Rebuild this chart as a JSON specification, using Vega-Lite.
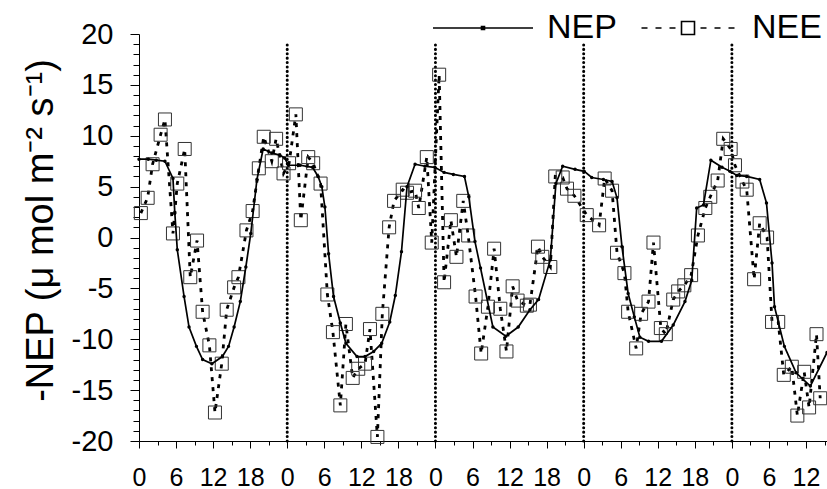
{
  "$schema": "https://vega.github.io/schema/vega-lite/v6.json",
  "width": 688,
  "height": 407,
  "autosize": {"type": "none"},
  "padding": {"left": 139, "top": 34, "right": 0, "bottom": 48},
  "background": "white",
  "config": {
    "view": {"stroke": null},
    "font": "Liberation Sans",
    "axis": {"labelOverlap": false, "labelFlush": false, "grid": false, "labelColor": "black", "tickColor": "black", "domainColor": "black", "tickWidth": 1, "domainWidth": 1, "labelFont": "Liberation Sans"},
    "axisX": {"labelFontSize": 25, "labelBaseline": "alphabetic", "labelPadding": 37},
    "axisY": {"labelFontSize": 29, "labelPadding": 17}
  },
  "datasets": {
    "days": [{"h": 24}, {"h": 48}, {"h": 72}, {"h": 96}],
    "vals": [
      {"s": "NEP", "h": 0, "v": 7.7}, {"s": "NEP", "h": 1.5, "v": 7.7}, {"s": "NEP", "h": 2.8, "v": 7.6}, {"s": "NEP", "h": 4.2, "v": 7.5},
      {"s": "NEP", "h": 5.5, "v": 5.8}, {"s": "NEP", "h": 5.8, "v": 2.4}, {"s": "NEP", "h": 6.2, "v": -1.2}, {"s": "NEP", "h": 7.3, "v": -5.8},
      {"s": "NEP", "h": 8.1, "v": -8.8}, {"s": "NEP", "h": 9.3, "v": -10.7}, {"s": "NEP", "h": 10.3, "v": -12.0}, {"s": "NEP", "h": 11.8, "v": -12.4},
      {"s": "NEP", "h": 13.5, "v": -11.7}, {"s": "NEP", "h": 14.5, "v": -10.7}, {"s": "NEP", "h": 15.4, "v": -8.8}, {"s": "NEP", "h": 16.4, "v": -6.3},
      {"s": "NEP", "h": 17.3, "v": -2.9}, {"s": "NEP", "h": 18.1, "v": 0.4}, {"s": "NEP", "h": 19.1, "v": 5.7}, {"s": "NEP", "h": 20.1, "v": 8.7},
      {"s": "NEP", "h": 21.5, "v": 8.3}, {"s": "NEP", "h": 22.8, "v": 8.1}, {"s": "NEP", "h": 23.6, "v": 7.8}, {"s": "NEP", "h": 24.2, "v": 7.1},
      {"s": "NEP", "h": 26.1, "v": 7.1}, {"s": "NEP", "h": 28.1, "v": 6.9}, {"s": "NEP", "h": 29.0, "v": 6.0}, {"s": "NEP", "h": 29.6, "v": 5.0},
      {"s": "NEP", "h": 30.1, "v": 3.0}, {"s": "NEP", "h": 30.7, "v": -1.6}, {"s": "NEP", "h": 31.5, "v": -5.8}, {"s": "NEP", "h": 32.6, "v": -8.4},
      {"s": "NEP", "h": 33.5, "v": -10.4}, {"s": "NEP", "h": 35.3, "v": -11.7}, {"s": "NEP", "h": 36.6, "v": -11.7}, {"s": "NEP", "h": 38.0, "v": -11.2},
      {"s": "NEP", "h": 39.3, "v": -10.4}, {"s": "NEP", "h": 40.6, "v": -8.3}, {"s": "NEP", "h": 41.5, "v": -5.7}, {"s": "NEP", "h": 42.5, "v": -1.4},
      {"s": "NEP", "h": 43.4, "v": 5.0}, {"s": "NEP", "h": 44.7, "v": 7.2}, {"s": "NEP", "h": 46.3, "v": 7.0}, {"s": "NEP", "h": 47.9, "v": 6.9},
      {"s": "NEP", "h": 49.4, "v": 6.4}, {"s": "NEP", "h": 50.9, "v": 6.2}, {"s": "NEP", "h": 52.7, "v": 6.0}, {"s": "NEP", "h": 53.4, "v": 4.0},
      {"s": "NEP", "h": 54.4, "v": -0.4}, {"s": "NEP", "h": 55.3, "v": -3.0}, {"s": "NEP", "h": 57.3, "v": -8.8}, {"s": "NEP", "h": 59.4, "v": -9.7},
      {"s": "NEP", "h": 61.4, "v": -8.8}, {"s": "NEP", "h": 63.3, "v": -7.1}, {"s": "NEP", "h": 64.7, "v": -6.1}, {"s": "NEP", "h": 66.6, "v": -2.2},
      {"s": "NEP", "h": 67.5, "v": 5.3}, {"s": "NEP", "h": 68.6, "v": 7.0}, {"s": "NEP", "h": 70.6, "v": 6.7}, {"s": "NEP", "h": 72.1, "v": 6.5},
      {"s": "NEP", "h": 73.3, "v": 5.9}, {"s": "NEP", "h": 75.2, "v": 5.7}, {"s": "NEP", "h": 76.6, "v": 5.5}, {"s": "NEP", "h": 77.4, "v": 3.9},
      {"s": "NEP", "h": 78.2, "v": -0.9}, {"s": "NEP", "h": 79.2, "v": -5.5}, {"s": "NEP", "h": 80.2, "v": -7.8}, {"s": "NEP", "h": 81.1, "v": -9.8},
      {"s": "NEP", "h": 82.5, "v": -10.2}, {"s": "NEP", "h": 84.6, "v": -10.2}, {"s": "NEP", "h": 86.5, "v": -8.6}, {"s": "NEP", "h": 88.4, "v": -6.3},
      {"s": "NEP", "h": 89.5, "v": -4.2}, {"s": "NEP", "h": 90.3, "v": 2.9}, {"s": "NEP", "h": 91.4, "v": 3.2}, {"s": "NEP", "h": 92.6, "v": 7.6},
      {"s": "NEP", "h": 94.4, "v": 6.9}, {"s": "NEP", "h": 95.7, "v": 6.5}, {"s": "NEP", "h": 96.8, "v": 6.1}, {"s": "NEP", "h": 98.4, "v": 6.0},
      {"s": "NEP", "h": 100.5, "v": 5.7}, {"s": "NEP", "h": 101.6, "v": 3.4}, {"s": "NEP", "h": 102.5, "v": -2.5}, {"s": "NEP", "h": 102.9, "v": -6.8},
      {"s": "NEP", "h": 104.5, "v": -10.7}, {"s": "NEP", "h": 106.4, "v": -13.3}, {"s": "NEP", "h": 108.7, "v": -14.6}, {"s": "NEP", "h": 111.4, "v": -11.3},

      {"s": "NEE", "h": 0.3, "v": 2.4}, {"s": "NEE", "h": 1.4, "v": 3.9}, {"s": "NEE", "h": 2.2, "v": 7.2}, {"s": "NEE", "h": 3.5, "v": 10.1},
      {"s": "NEE", "h": 4.2, "v": 11.6}, {"s": "NEE", "h": 5.5, "v": 0.4}, {"s": "NEE", "h": 6.2, "v": 5.3}, {"s": "NEE", "h": 7.4, "v": 8.7},
      {"s": "NEE", "h": 8.3, "v": -3.9}, {"s": "NEE", "h": 9.4, "v": -0.3}, {"s": "NEE", "h": 10.3, "v": -7.3}, {"s": "NEE", "h": 11.4, "v": -10.6},
      {"s": "NEE", "h": 12.3, "v": -17.2}, {"s": "NEE", "h": 13.4, "v": -12.4}, {"s": "NEE", "h": 14.2, "v": -7.1}, {"s": "NEE", "h": 15.4, "v": -4.9},
      {"s": "NEE", "h": 16.1, "v": -3.9}, {"s": "NEE", "h": 17.4, "v": 0.7}, {"s": "NEE", "h": 18.4, "v": 2.6}, {"s": "NEE", "h": 19.4, "v": 6.8},
      {"s": "NEE", "h": 20.2, "v": 9.9}, {"s": "NEE", "h": 21.5, "v": 7.5}, {"s": "NEE", "h": 22.2, "v": 9.7}, {"s": "NEE", "h": 23.4, "v": 6.3},
      {"s": "NEE", "h": 24.3, "v": 7.3}, {"s": "NEE", "h": 25.4, "v": 12.1}, {"s": "NEE", "h": 26.2, "v": 1.7}, {"s": "NEE", "h": 27.4, "v": 7.9},
      {"s": "NEE", "h": 28.2, "v": 7.3}, {"s": "NEE", "h": 29.4, "v": 5.3}, {"s": "NEE", "h": 30.5, "v": -5.6}, {"s": "NEE", "h": 31.4, "v": -9.3},
      {"s": "NEE", "h": 32.6, "v": -16.5}, {"s": "NEE", "h": 33.5, "v": -8.5}, {"s": "NEE", "h": 34.6, "v": -13.8}, {"s": "NEE", "h": 35.5, "v": -12.9},
      {"s": "NEE", "h": 36.6, "v": -12.4}, {"s": "NEE", "h": 37.4, "v": -9.0}, {"s": "NEE", "h": 38.6, "v": -19.6}, {"s": "NEE", "h": 39.4, "v": -7.5},
      {"s": "NEE", "h": 40.5, "v": 1.0}, {"s": "NEE", "h": 41.3, "v": 3.6}, {"s": "NEE", "h": 42.7, "v": 4.7}, {"s": "NEE", "h": 43.4, "v": 4.4},
      {"s": "NEE", "h": 44.7, "v": 4.6}, {"s": "NEE", "h": 45.3, "v": 2.9}, {"s": "NEE", "h": 46.6, "v": 7.9}, {"s": "NEE", "h": 47.4, "v": -0.5},
      {"s": "NEE", "h": 48.6, "v": 16.0}, {"s": "NEE", "h": 49.4, "v": -4.4}, {"s": "NEE", "h": 50.5, "v": 1.7}, {"s": "NEE", "h": 51.4, "v": -1.9},
      {"s": "NEE", "h": 52.5, "v": 3.6}, {"s": "NEE", "h": 53.3, "v": 0.2}, {"s": "NEE", "h": 54.5, "v": -5.8}, {"s": "NEE", "h": 55.4, "v": -11.4},
      {"s": "NEE", "h": 56.5, "v": -6.8}, {"s": "NEE", "h": 57.5, "v": -1.1}, {"s": "NEE", "h": 58.5, "v": -7.0}, {"s": "NEE", "h": 59.5, "v": -11.2},
      {"s": "NEE", "h": 60.5, "v": -4.8}, {"s": "NEE", "h": 61.3, "v": -6.2}, {"s": "NEE", "h": 62.8, "v": -6.7}, {"s": "NEE", "h": 63.3, "v": -6.6},
      {"s": "NEE", "h": 64.6, "v": -0.9}, {"s": "NEE", "h": 65.3, "v": -1.9}, {"s": "NEE", "h": 66.6, "v": -2.9}, {"s": "NEE", "h": 67.4, "v": 6.0},
      {"s": "NEE", "h": 68.6, "v": 5.9}, {"s": "NEE", "h": 69.3, "v": 4.8}, {"s": "NEE", "h": 70.5, "v": 4.1}, {"s": "NEE", "h": 72.5, "v": 2.2},
      {"s": "NEE", "h": 74.5, "v": 1.2}, {"s": "NEE", "h": 75.4, "v": 5.8}, {"s": "NEE", "h": 76.6, "v": 4.6}, {"s": "NEE", "h": 77.4, "v": -1.5},
      {"s": "NEE", "h": 78.6, "v": -3.5}, {"s": "NEE", "h": 79.2, "v": -7.3}, {"s": "NEE", "h": 80.5, "v": -10.9}, {"s": "NEE", "h": 81.3, "v": -7.5},
      {"s": "NEE", "h": 82.5, "v": -6.3}, {"s": "NEE", "h": 83.3, "v": -0.5}, {"s": "NEE", "h": 84.5, "v": -8.9}, {"s": "NEE", "h": 85.3, "v": -9.5},
      {"s": "NEE", "h": 86.5, "v": -6.1}, {"s": "NEE", "h": 87.3, "v": -5.3}, {"s": "NEE", "h": 88.3, "v": -4.7}, {"s": "NEE", "h": 89.4, "v": -3.7},
      {"s": "NEE", "h": 90.5, "v": 0.2}, {"s": "NEE", "h": 91.7, "v": 2.9}, {"s": "NEE", "h": 92.5, "v": 4.0}, {"s": "NEE", "h": 93.7, "v": 5.6},
      {"s": "NEE", "h": 94.6, "v": 9.7}, {"s": "NEE", "h": 95.8, "v": 8.7}, {"s": "NEE", "h": 96.5, "v": 7.1}, {"s": "NEE", "h": 97.7, "v": 5.5},
      {"s": "NEE", "h": 98.4, "v": 4.7}, {"s": "NEE", "h": 99.6, "v": -4.1}, {"s": "NEE", "h": 100.5, "v": 1.4}, {"s": "NEE", "h": 101.7, "v": 0.0},
      {"s": "NEE", "h": 102.5, "v": -8.3}, {"s": "NEE", "h": 103.5, "v": -8.3}, {"s": "NEE", "h": 104.4, "v": -13.5}, {"s": "NEE", "h": 105.7, "v": -12.7},
      {"s": "NEE", "h": 106.6, "v": -17.5}, {"s": "NEE", "h": 107.7, "v": -13.2}, {"s": "NEE", "h": 108.5, "v": -16.7}, {"s": "NEE", "h": 109.7, "v": -9.5},
      {"s": "NEE", "h": 110.3, "v": -15.8}
    ]
  },
  "encoding": {
    "x": {
      "field": "h", "type": "quantitative",
      "scale": {"domain": [0, 111.4], "nice": false, "zero": false},
      "axis": {
        "values": [0,3,6,9,12,15,18,21,24,27,30,33,36,39,42,45,48,51,54,57,60,63,66,69,72,75,78,81,84,87,90,93,96,99,102,105,108,111],
        "labelExpr": "datum.value % 6 === 0 ? '' + (datum.value % 24) : ''",
        "tickSize": {"condition": {"test": "datum.value % 6 === 0", "value": 7}, "value": 4},
        "labelOverlap": false, "labelFlush": false,
        "title": null
      }
    }
  },
  "layer": [
    {
      "data": {"name": "vals"},
      "transform": [{"filter": "datum.s === 'NEE'"}],
      "mark": {"type": "line", "color": "black", "strokeWidth": 2.8, "strokeDash": [4, 6]},
      "encoding": {
        "y": {
          "field": "v", "type": "quantitative",
          "scale": {"domain": [-20, 20], "nice": false},
          "axis": {
            "values": [-20,-19,-18,-17,-16,-15,-14,-13,-12,-11,-10,-9,-8,-7,-6,-5,-4,-3,-2,-1,0,1,2,3,4,5,6,7,8,9,10,11,12,13,14,15,16,17,18,19,20],
            "labelExpr": "datum.value % 5 === 0 ? '' + datum.value : ''",
            "tickSize": {"condition": {"test": "datum.value % 5 === 0", "value": 9}, "value": 6},
            "labelOverlap": false, "labelFlush": false,
            "title": "-NEP (μ mol m⁻² s⁻¹)",
            "titleFont": "Liberation Sans", "titleFontSize": 38, "titleFontWeight": "normal", "titleColor": "black",
            "titleAngle": -90, "titleX": -87, "titleY": 196, "titleAlign": "center", "titleBaseline": "alphabetic"
          }
        }
      }
    },
    {
      "data": {"name": "days"},
      "mark": {"type": "rule", "color": "black", "strokeWidth": 3, "strokeCap": "round", "strokeDash": [0.1, 4.3]},
      "encoding": {
        "y": {
          "datum": -20, "type": "quantitative",
          "scale": {"domain": [-20, 20], "nice": false},
          "axis": {
            "values": [-20,-19,-18,-17,-16,-15,-14,-13,-12,-11,-10,-9,-8,-7,-6,-5,-4,-3,-2,-1,0,1,2,3,4,5,6,7,8,9,10,11,12,13,14,15,16,17,18,19,20],
            "labelExpr": "datum.value % 5 === 0 ? '' + datum.value : ''",
            "tickSize": {"condition": {"test": "datum.value % 5 === 0", "value": 9}, "value": 6},
            "labelOverlap": false, "labelFlush": false,
            "title": "-NEP (μ mol m⁻² s⁻¹)",
            "titleFont": "Liberation Sans", "titleFontSize": 38, "titleFontWeight": "normal", "titleColor": "black",
            "titleAngle": -90, "titleX": -87, "titleY": 196, "titleAlign": "center", "titleBaseline": "alphabetic"
          }
        },
        "y2": {"datum": 19}
      }
    },
    {
      "data": {"name": "vals"},
      "transform": [{"filter": "datum.s === 'NEE'"}],
      "mark": {"type": "point", "shape": "square", "size": 169, "filled": false, "stroke": "#333333", "strokeWidth": 1, "opacity": 1},
      "encoding": {
        "y": {"field": "v", "type": "quantitative", "scale": {"domain": [-20, 20], "nice": false}, "axis": {
            "values": [-20,-19,-18,-17,-16,-15,-14,-13,-12,-11,-10,-9,-8,-7,-6,-5,-4,-3,-2,-1,0,1,2,3,4,5,6,7,8,9,10,11,12,13,14,15,16,17,18,19,20],
            "labelExpr": "datum.value % 5 === 0 ? '' + datum.value : ''",
            "tickSize": {"condition": {"test": "datum.value % 5 === 0", "value": 9}, "value": 6},
            "labelOverlap": false, "labelFlush": false,
            "title": "-NEP (μ mol m⁻² s⁻¹)",
            "titleFont": "Liberation Sans", "titleFontSize": 38, "titleFontWeight": "normal", "titleColor": "black",
            "titleAngle": -90, "titleX": -87, "titleY": 196, "titleAlign": "center", "titleBaseline": "alphabetic"
          }}
      }
    },
    {
      "data": {"name": "vals"},
      "transform": [{"filter": "datum.s === 'NEP'"}],
      "mark": {"type": "line", "color": "black", "strokeWidth": 1.7},
      "encoding": {
        "y": {"field": "v", "type": "quantitative", "scale": {"domain": [-20, 20], "nice": false}, "axis": {
            "values": [-20,-19,-18,-17,-16,-15,-14,-13,-12,-11,-10,-9,-8,-7,-6,-5,-4,-3,-2,-1,0,1,2,3,4,5,6,7,8,9,10,11,12,13,14,15,16,17,18,19,20],
            "labelExpr": "datum.value % 5 === 0 ? '' + datum.value : ''",
            "tickSize": {"condition": {"test": "datum.value % 5 === 0", "value": 9}, "value": 6},
            "labelOverlap": false, "labelFlush": false,
            "title": "-NEP (μ mol m⁻² s⁻¹)",
            "titleFont": "Liberation Sans", "titleFontSize": 38, "titleFontWeight": "normal", "titleColor": "black",
            "titleAngle": -90, "titleX": -87, "titleY": 196, "titleAlign": "center", "titleBaseline": "alphabetic"
          }}
      }
    },
    {
      "data": {"name": "vals"},
      "transform": [{"filter": "datum.s === 'NEP'"}],
      "mark": {"type": "circle", "color": "black", "size": 12, "opacity": 1},
      "encoding": {
        "y": {"field": "v", "type": "quantitative", "scale": {"domain": [-20, 20], "nice": false}, "axis": {
            "values": [-20,-19,-18,-17,-16,-15,-14,-13,-12,-11,-10,-9,-8,-7,-6,-5,-4,-3,-2,-1,0,1,2,3,4,5,6,7,8,9,10,11,12,13,14,15,16,17,18,19,20],
            "labelExpr": "datum.value % 5 === 0 ? '' + datum.value : ''",
            "tickSize": {"condition": {"test": "datum.value % 5 === 0", "value": 9}, "value": 6},
            "labelOverlap": false, "labelFlush": false,
            "title": "-NEP (μ mol m⁻² s⁻¹)",
            "titleFont": "Liberation Sans", "titleFontSize": 38, "titleFontWeight": "normal", "titleColor": "black",
            "titleAngle": -90, "titleX": -87, "titleY": 196, "titleAlign": "center", "titleBaseline": "alphabetic"
          }}
      }
    },
    {
      "data": {"name": "vals"},
      "mark": {"type": "point", "opacity": 0, "filled": false},
      "encoding": {
        "y": {"field": "v", "type": "quantitative", "scale": {"domain": [-20, 20], "nice": false}, "axis": {
            "values": [-20,-19,-18,-17,-16,-15,-14,-13,-12,-11,-10,-9,-8,-7,-6,-5,-4,-3,-2,-1,0,1,2,3,4,5,6,7,8,9,10,11,12,13,14,15,16,17,18,19,20],
            "labelExpr": "datum.value % 5 === 0 ? '' + datum.value : ''",
            "tickSize": {"condition": {"test": "datum.value % 5 === 0", "value": 9}, "value": 6},
            "labelOverlap": false, "labelFlush": false,
            "title": "-NEP (μ mol m⁻² s⁻¹)",
            "titleFont": "Liberation Sans", "titleFontSize": 38, "titleFontWeight": "normal", "titleColor": "black",
            "titleAngle": -90, "titleX": -87, "titleY": 196, "titleAlign": "center", "titleBaseline": "alphabetic"
          }},
        "shape": {
          "field": "s", "type": "nominal",
          "scale": {
            "domain": ["NEP", "NEE"],
            "range": [
              "M-1,0H1M-0.03,-0.03H0.03V0.03H-0.03Z",
              "M-0.93,0H-0.81M-0.65,0H-0.53M-0.37,0H-0.25M-0.13,-0.13H0.13V0.13H-0.13ZM0.25,0H0.37M0.53,0H0.65M0.81,0H0.93"
            ]
          },
          "legend": {
            "orient": "none", "legendX": 293, "legendY": -57,
            "direction": "horizontal", "title": null, "padding": 0,
            "symbolSize": 10000, "symbolStrokeColor": "black", "symbolFillColor": "transparent",
            "symbolStrokeWidth": 1.6, "symbolOpacity": 1,
            "labelFont": "Liberation Sans", "labelFontSize": 34, "labelColor": "black",
            "labelOffset": 13, "columnPadding": 20, "labelLimit": 200
          }
        }
      }
    }
  ]
}
